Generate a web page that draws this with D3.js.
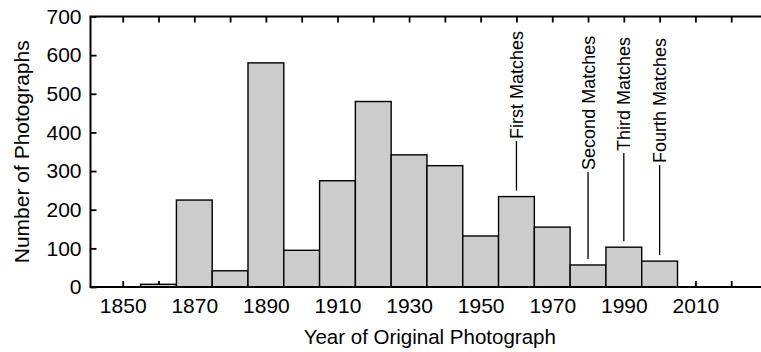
<!DOCTYPE html>
<html>
<head>
<meta charset="utf-8">
<script src="https://cdn.jsdelivr.net/npm/d3@7"></script>
<style>
  html, body { margin: 0; padding: 0; background: #fff; }
  svg { display: block; font-family: "Liberation Sans", Arial, Helvetica, sans-serif; }
</style>
</head>
<body>
<svg id="chart" width="761" height="352"></svg>
<script>
// ---- data ----
const decades = [1860, 1870, 1880, 1890, 1900, 1910, 1920, 1930, 1940, 1950, 1960, 1970, 1980, 1990, 2000];
const counts  = [7, 225, 42, 580, 95, 275, 480, 342, 314, 132, 234, 155, 57, 103, 67];
const xTickYears  = [1850, 1860, 1870, 1880, 1890, 1900, 1910, 1920, 1930, 1940, 1950, 1960, 1970, 1980, 1990, 2000, 2010, 2020];
const xLabelYears = [1850, 1870, 1890, 1910, 1930, 1950, 1970, 1990, 2010];
const yTicks = [0, 100, 200, 300, 400, 500, 600, 700];
const annoLabels = ["First Matches", "Second Matches", "Third Matches", "Fourth Matches"];
const annoYears  = [1960, 1980, 1990, 2000];
const annoStart  = [383, 303, 352, 321]; // value level where label text begins
const xTitle = "Year of Original Photograph";
const yTitle = "Number of Photographs";

// ---- layout ----
const mLeft = 90.5, mRight = 767, mTop = 16.5, mBottom = 287;
const svg = d3.select("#chart");
const x = d3.scaleLinear().domain([1841, 2030]).range([mLeft, mRight]);
const y = d3.scaleLinear().domain([0, 700]).range([mBottom, mTop]);

// axes (ticks first, bars over them)
const bAxis = d3.axisBottom(x).tickValues(xTickYears).tickSizeInner(-6).tickSizeOuter(0).tickPadding(11)
  .tickFormat(d => xLabelYears.includes(d) ? String(d) : "");
const tAxis = d3.axisTop(x).tickValues(xTickYears).tickSizeInner(-6).tickSizeOuter(0).tickFormat("");
const lAxis = d3.axisLeft(y).tickValues(yTicks).tickSizeInner(-6).tickSizeOuter(0).tickPadding(9)
  .tickFormat(d3.format("d"));
const rAxis = d3.axisRight(y).tickValues(yTicks).tickSizeInner(-6).tickSizeOuter(0).tickFormat("");

function styleAxis(g) {
  g.select(".domain").remove();
  g.selectAll(".tick line").attr("stroke", "#000").attr("stroke-width", 1.8);
  g.selectAll(".tick text").attr("fill", "#000").attr("font-size", 21)
    .attr("font-family", "'Liberation Sans', Arial, Helvetica, sans-serif");
}
svg.append("g").attr("transform", `translate(0,${mBottom})`).call(bAxis).call(styleAxis);
svg.append("g").attr("transform", `translate(0,${mTop})`).call(tAxis).call(styleAxis);
svg.append("g").attr("transform", `translate(${mLeft},0)`).call(lAxis).call(styleAxis);
svg.append("g").attr("transform", `translate(${mRight},0)`).call(rAxis).call(styleAxis);

// bars
svg.append("g").selectAll("rect").data(decades).join("rect")
  .attr("x", (d) => x(d - 5))
  .attr("width", (d) => x(d + 5) - x(d - 5))
  .attr("y", (d, i) => y(counts[i]))
  .attr("height", (d, i) => y(0) - y(counts[i]))
  .attr("fill", "#cccccc")
  .attr("stroke", "#000")
  .attr("stroke-width", 1.4);

// frame
svg.append("rect").attr("x", mLeft).attr("y", mTop).attr("width", mRight - mLeft).attr("height", mBottom - mTop)
  .attr("fill", "none").attr("stroke", "#000").attr("stroke-width", 2);

// annotations
const anno = svg.append("g");
annoYears.forEach((yr, i) => {
  const barVal = counts[decades.indexOf(yr)];
  const ax = x(yr);
  const y0 = y(annoStart[i]);
  anno.append("line")
    .attr("x1", ax).attr("x2", ax)
    .attr("y1", y0 + 2).attr("y2", y(barVal) - 6)
    .attr("stroke", "#000").attr("stroke-width", 1.3);
  anno.append("text")
    .attr("transform", `translate(${ax},${y0}) rotate(-90)`)
    .attr("text-anchor", "start")
    .attr("dy", "0.36em")
    .attr("font-size", 18)
    .attr("fill", "#000")
    .text(annoLabels[i]);
});

// titles
svg.append("text")
  .attr("x", (mLeft + mRight) / 2 + 1).attr("y", 344)
  .attr("text-anchor", "middle").attr("font-size", 20.5).attr("fill", "#000")
  .text(xTitle);
svg.append("text")
  .attr("transform", `translate(28.5,${(mTop + mBottom) / 2}) rotate(-90)`)
  .attr("text-anchor", "middle").attr("font-size", 21).attr("fill", "#000")
  .text(yTitle);
</script>
</body>
</html>
